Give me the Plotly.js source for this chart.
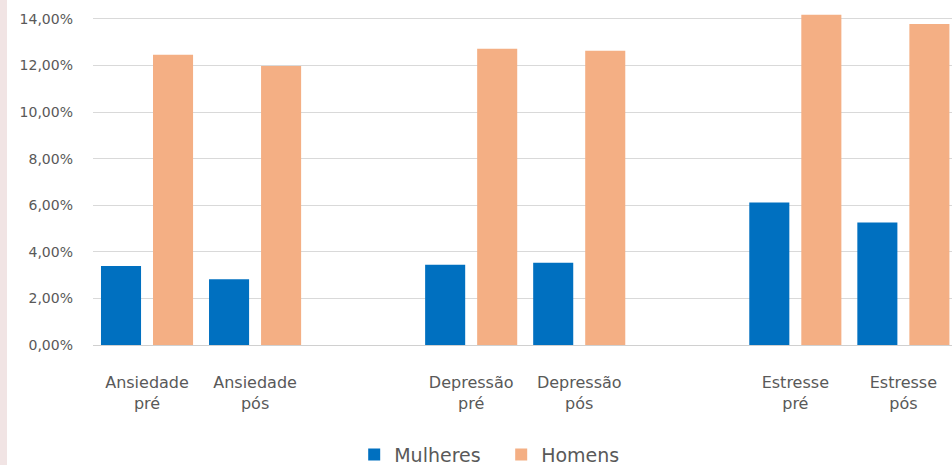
<!DOCTYPE html>
<html>
<head>
<meta charset="utf-8">
<script src="https://cdn.plot.ly/plotly-3.0.1.min.js"></script>
<style>html,body{margin:0;padding:0;background:#fff;}#chart{width:952px;height:465px;}</style>
</head>
<body>
<div id="chart"></div>
<script>
const categories = ["Ansiedade<br>pré", "Ansiedade<br>pós", " ", "Depressão<br>pré", "Depressão<br>pós", "  ", "Estresse<br>pré", "Estresse<br>pós"];
const mulheres = [0.0339, 0.0282, null, 0.0345, 0.0353, null, 0.0612, 0.0526];
const homens = [0.1246, 0.1198, null, 0.1272, 0.1263, null, 0.1418, 0.1378];
const seriesNames = ["Mulheres", "Homens"];

const labelFont = {family: "DejaVu Sans, sans-serif", size: 16, color: "#595959"};

const traces = [
  {type: "bar", name: seriesNames[0], x: categories, y: mulheres, marker: {color: "#0070C0"}, hoverinfo: "skip"},
  {type: "bar", name: seriesNames[1], x: categories, y: homens, marker: {color: "#F4AF84"}, hoverinfo: "skip"}
];

const layout = {
  width: 952, height: 465,
  margin: {l: 93, r: 0, t: 0, b: 120, autoexpand: false},
  paper_bgcolor: "#ffffff", plot_bgcolor: "#ffffff",
  separators: ",.",
  barmode: "group", bargap: 0.037, bargroupgap: 0.23,
  xaxis: {
    type: "category", categoryorder: "array", categoryarray: categories,
    range: [-0.5, 7.45], showgrid: false, zeroline: false, showline: false, automargin: false,
    ticks: "", tickfont: labelFont, ticklabelstandoff: 26, fixedrange: true
  },
  yaxis: {
    range: [0, 0.1481], tickvals: [0, 0.02, 0.04, 0.06, 0.08, 0.10, 0.12, 0.14],
    tickformat: ".2%", showgrid: true, gridcolor: "#D9D9D9", gridwidth: 1, automargin: false,
    zeroline: true, zerolinecolor: "#D0D0D0", zerolinewidth: 1, showline: false,
    ticks: "", ticklabelstandoff: 19,
    tickfont: {family: "DejaVu Sans, sans-serif", size: 14, color: "#595959"}, fixedrange: true
  },
  showlegend: true,
  legend: {
    orientation: "h", x: 0.4752, xanchor: "center", yref: "container", y: 0.022, yanchor: "middle",
    font: {family: "DejaVu Sans, sans-serif", size: 19, color: "#595959"},
    itemwidth: 30, tracegroupgap: 0, entrywidth: 102, entrywidthmode: "pixels"
  },
  shapes: [
    {type: "rect", xref: "paper", yref: "paper", x0: -93/859, x1: -86/859, y0: -120/345, y1: 1, fillcolor: "#F1E4E4", line: {width: 0}, layer: "below"}
  ]
};

Plotly.newPlot("chart", traces, layout, {displayModeBar: false, staticPlot: true});
</script>
</body>
</html>
